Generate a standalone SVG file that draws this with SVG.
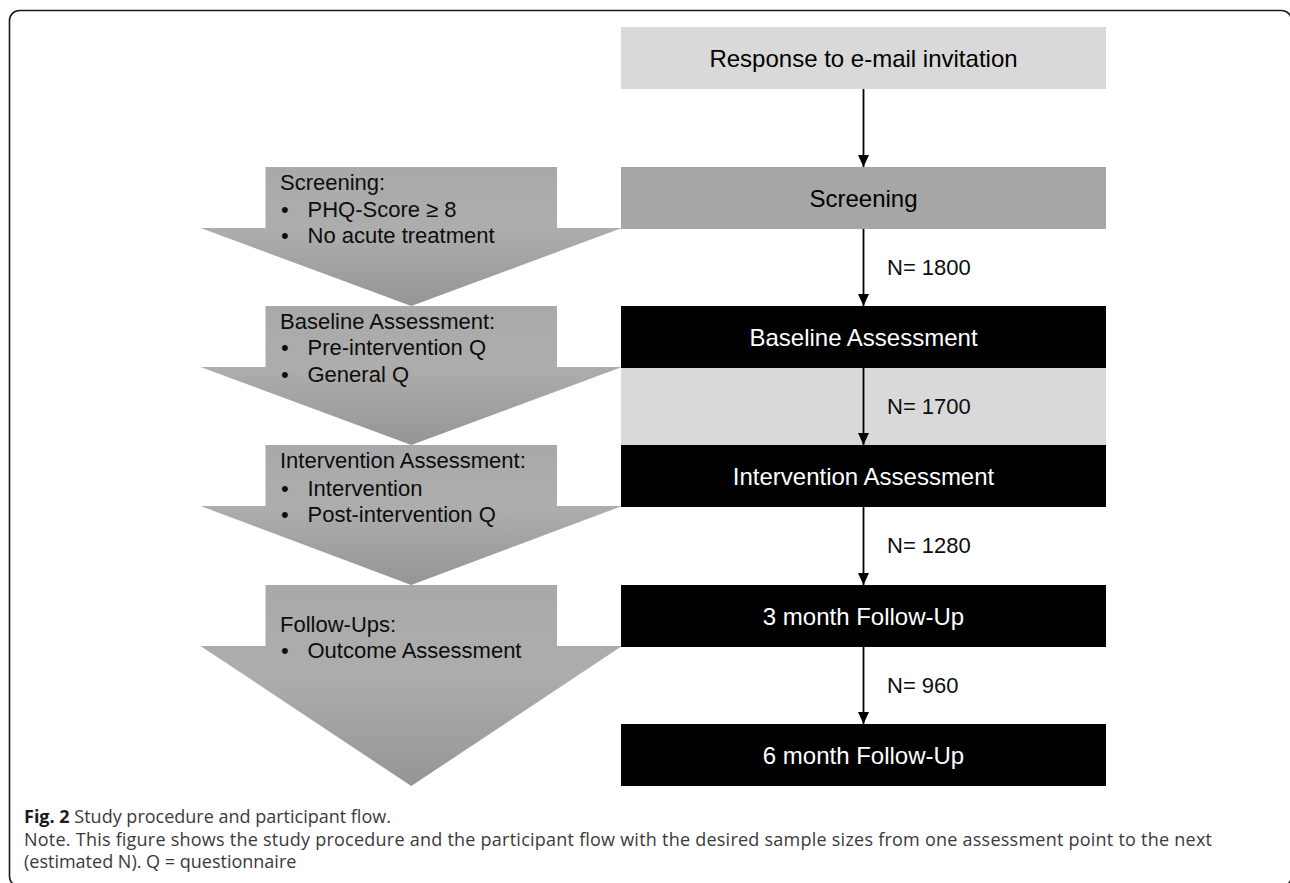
<svg xmlns="http://www.w3.org/2000/svg" width="1290" height="883" viewBox="0 0 1290 883">
<defs>
<linearGradient id="chevGrad" x1="0" y1="0" x2="0" y2="1">
<stop offset="0" stop-color="#a9a9a9"/>
<stop offset="0.45" stop-color="#adadad"/>
<stop offset="1" stop-color="#959595"/>
</linearGradient>
<marker id="arrow" viewBox="0 0 12 11" refX="12" refY="5.5" markerWidth="12" markerHeight="11" markerUnits="userSpaceOnUse" orient="auto">
<path d="M0,0 L12,5.5 L0,11 Z" fill="#000"/>
</marker>
</defs>
<style>
.frame{fill:#fff;stroke:#1a1a1a;stroke-width:1.6}
.chev{fill:url(#chevGrad)}
.ct{font-family:"Liberation Sans",Arial,sans-serif;font-size:22px;fill:#0d0d0d}
.bt{font-family:"Liberation Sans",Arial,sans-serif;font-size:24px;text-anchor:middle}
.dark{fill:#000}
.light{fill:#fff}
.nl{font-family:"Liberation Sans",Arial,sans-serif;font-size:22px;fill:#0d0d0d}
.conn{stroke:#000;stroke-width:1.8;fill:none;marker-end:url(#arrow)}
.cap{font-family:"Open Sans","DejaVu Sans",sans-serif;font-size:18px;fill:#3a3a3a}
.capb{font-weight:bold;fill:#1a1a1a}
</style>
<rect class="frame" x="9.5" y="10.5" width="1282" height="876" rx="10" ry="10"/>

<g id="chevron-screening">
<path class="chev" d="M265.5,167 L557,167 L557,228 L622,228 L411.25,306 L200.5,228 L265.5,228 Z"/>
<text class="ct" x="280" y="190">Screening:</text>
<text class="ct" x="281" y="216.5">•</text><text class="ct" x="307.5" y="216.5">PHQ-Score ≥ 8</text>
<text class="ct" x="281" y="243">•</text><text class="ct" x="307.5" y="243">No acute treatment</text>
</g>
<g id="chevron-baseline">
<path class="chev" d="M265.5,306 L557,306 L557,367 L622,367 L411.25,445 L200.5,367 L265.5,367 Z"/>
<text class="ct" x="280" y="328.5">Baseline Assessment:</text>
<text class="ct" x="281" y="355">•</text><text class="ct" x="307.5" y="355">Pre-intervention Q</text>
<text class="ct" x="281" y="381.5">•</text><text class="ct" x="307.5" y="381.5">General Q</text>
</g>
<g id="chevron-intervention">
<path class="chev" d="M265.5,445 L557,445 L557,506 L622,506 L411.25,585 L200.5,506 L265.5,506 Z"/>
<text class="ct" x="280" y="468">Intervention Assessment:</text>
<text class="ct" x="281" y="495.5">•</text><text class="ct" x="307.5" y="495.5">Intervention</text>
<text class="ct" x="281" y="521.5">•</text><text class="ct" x="307.5" y="521.5">Post-intervention Q</text>
</g>
<g id="chevron-followups">
<path class="chev" d="M265.5,585 L557,585 L557,646 L622,646 L411.25,786 L200.5,646 L265.5,646 Z"/>
<text class="ct" x="280" y="631.5">Follow-Ups:</text>
<text class="ct" x="281" y="657.5">•</text><text class="ct" x="307.5" y="657.5">Outcome Assessment</text>
</g>

<g id="band-light">
<rect x="621" y="368" width="485" height="77" fill="#d9d9d9"/>
</g>

<g id="node-response">
<rect x="621" y="27" width="485" height="62" fill="#d9d9d9"/>
<text class="bt dark" x="863.5" y="66.5">Response to e-mail invitation</text>
</g>
<g id="node-screening">
<rect x="621" y="167" width="485" height="62" fill="#a6a6a6"/>
<text class="bt dark" x="863.5" y="206.5">Screening</text>
</g>
<g id="node-baseline">
<rect x="621" y="306" width="485" height="62" fill="#000"/>
<text class="bt light" x="863.5" y="345.5">Baseline Assessment</text>
</g>
<g id="node-intervention">
<rect x="621" y="445" width="485" height="62" fill="#000"/>
<text class="bt light" x="863.5" y="484.5">Intervention Assessment</text>
</g>
<g id="node-3month">
<rect x="621" y="585" width="485" height="62" fill="#000"/>
<text class="bt light" x="863.5" y="624.5">3 month Follow-Up</text>
</g>
<g id="node-6month">
<rect x="621" y="724" width="485" height="62" fill="#000"/>
<text class="bt light" x="863.5" y="763.5">6 month Follow-Up</text>
</g>

<g id="connectors">
<line class="conn" x1="863.5" y1="89" x2="863.5" y2="167"/>
<line class="conn" x1="863.5" y1="229" x2="863.5" y2="306"/>
<line class="conn" x1="863.5" y1="368" x2="863.5" y2="445"/>
<line class="conn" x1="863.5" y1="507" x2="863.5" y2="585"/>
<line class="conn" x1="863.5" y1="647" x2="863.5" y2="724"/>
<text class="nl" x="887" y="275">N= 1800</text>
<text class="nl" x="887" y="414">N= 1700</text>
<text class="nl" x="887" y="553">N= 1280</text>
<text class="nl" x="887" y="692.5">N= 960</text>
</g>

<g id="caption">
<text class="cap" x="24" y="823"><tspan class="capb">Fig. 2</tspan> Study procedure and participant flow.</text>
<text class="cap" x="24" y="845.5" textLength="1188" lengthAdjust="spacing">Note. This figure shows the study procedure and the participant flow with the desired sample sizes from one assessment point to the next</text>
<text class="cap" x="24" y="868">(estimated N). Q = questionnaire</text>
</g>
</svg>
